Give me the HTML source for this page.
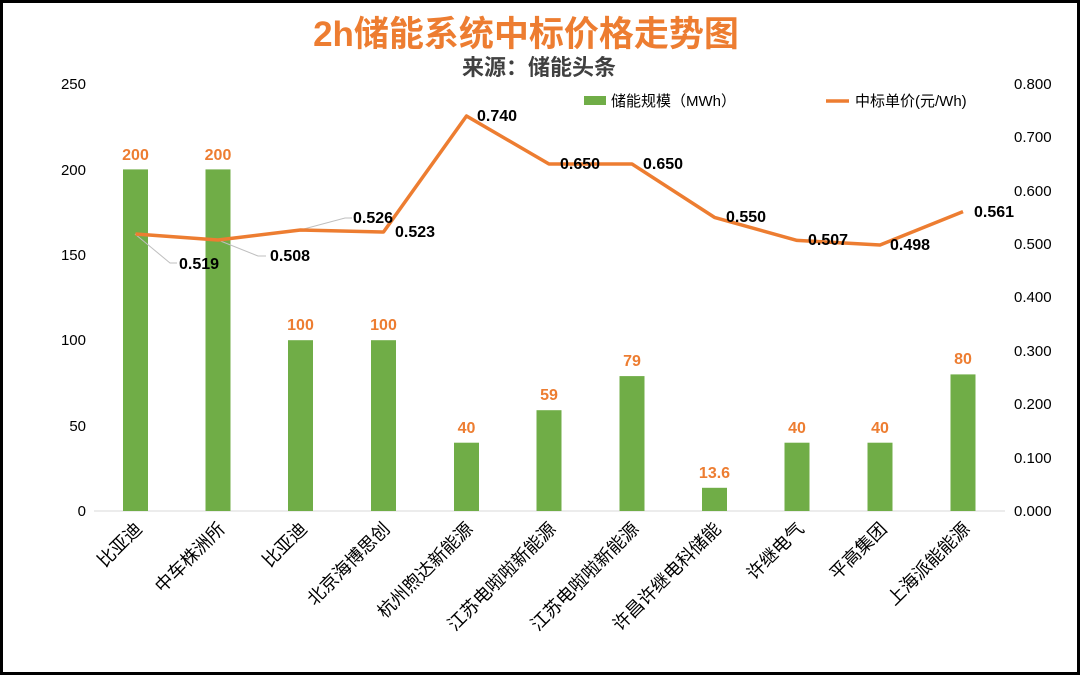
<!DOCTYPE html>
<html><head><meta charset="utf-8"><style>
html,body{margin:0;padding:0;background:#fff}
svg{display:block}
text{font-family:"Liberation Sans","Noto Sans CJK SC",sans-serif}
</style></head><body>
<svg width="1080" height="675" xmlns="http://www.w3.org/2000/svg">
<rect x="1.5" y="1.5" width="1077" height="672" fill="#fff" stroke="#000" stroke-width="3"/>
<text x="526" y="46" text-anchor="middle" font-size="35" font-weight="bold" fill="#ED7D31">2h储能系统中标价格走势图</text>
<text x="539" y="75" text-anchor="middle" font-size="22" font-weight="bold" fill="#404040">来源：储能头条</text>
<g font-size="15" fill="#000" text-anchor="end">
<text x="86" y="89">250</text><text x="86" y="175">200</text><text x="86" y="260">150</text>
<text x="86" y="345">100</text><text x="86" y="431">50</text><text x="86" y="516">0</text>
</g>
<g font-size="15" fill="#000" text-anchor="start">
<text x="1014" y="89">0.800</text><text x="1014" y="142">0.700</text><text x="1014" y="196">0.600</text>
<text x="1014" y="249">0.500</text><text x="1014" y="302">0.400</text><text x="1014" y="356">0.300</text>
<text x="1014" y="409">0.200</text><text x="1014" y="463">0.100</text><text x="1014" y="516">0.000</text>
</g>
<line x1="94" y1="511" x2="1005" y2="511" stroke="#d9d9d9" stroke-width="1"/>
<g fill="#70AD47">
<rect x="123" y="169.4" width="25" height="341.6"/>
<rect x="205.5" y="169.4" width="25" height="341.6"/>
<rect x="288" y="340.2" width="25" height="170.8"/>
<rect x="371" y="340.2" width="25" height="170.8"/>
<rect x="454" y="442.7" width="25" height="68.3"/>
<rect x="536.5" y="410.2" width="25" height="100.8"/>
<rect x="619.5" y="376.1" width="25" height="134.9"/>
<rect x="702" y="487.8" width="25" height="23.2"/>
<rect x="784.5" y="442.7" width="25" height="68.3"/>
<rect x="867.5" y="442.7" width="25" height="68.3"/>
<rect x="950.5" y="374.4" width="25" height="136.6"/>
</g>
<g font-size="16" font-weight="bold" fill="#ED7D31" text-anchor="middle">
<text x="135.5" y="160">200</text><text x="218" y="160">200</text><text x="300.5" y="330">100</text>
<text x="383.5" y="330">100</text><text x="466.5" y="433">40</text><text x="549" y="400">59</text>
<text x="632" y="366">79</text><text x="714.5" y="478">13.6</text><text x="797" y="433">40</text>
<text x="880" y="433">40</text><text x="963" y="364">80</text>
</g>
<g stroke="#BFBFBF" stroke-width="1" fill="none">
<polyline points="135,234 170,263 177,263"/>
<polyline points="218,240 258,256 266,256"/>
<polyline points="300,230 345,218 352,218"/>
</g>
<polyline fill="none" stroke="#ED7D31" stroke-width="3.5" stroke-linejoin="round" points="135.5,234 218,240 300.5,230 383.5,232 466.5,116 549,164 632,164 714.5,217.4 797,240.4 880,245 963,211.6"/>
<g font-size="16" font-weight="bold" fill="#000">
<text x="179" y="269">0.519</text><text x="270" y="261">0.508</text><text x="353" y="223">0.526</text>
<text x="395" y="237">0.523</text><text x="477" y="121">0.740</text><text x="560" y="169">0.650</text>
<text x="643" y="169">0.650</text><text x="726" y="222">0.550</text><text x="808" y="245">0.507</text>
<text x="890" y="250">0.498</text><text x="974" y="217">0.561</text>
</g>
<rect x="584" y="96" width="22" height="9" fill="#70AD47"/>
<text x="611" y="106" font-size="15" fill="#000">储能规模（MWh）</text>
<line x1="826" y1="101" x2="849" y2="101" stroke="#ED7D31" stroke-width="3.5"/>
<text x="855" y="106" font-size="15" fill="#000">中标单价(元/Wh)</text>
<g font-size="18" fill="#000" text-anchor="end">
<text transform="translate(143,530) rotate(-45)">比亚迪</text>
<text transform="translate(226,530) rotate(-45)">中车株洲所</text>
<text transform="translate(308,530) rotate(-45)">比亚迪</text>
<text transform="translate(391,530) rotate(-45)">北京海博思创</text>
<text transform="translate(474,530) rotate(-45)">杭州煦达新能源</text>
<text transform="translate(557,530) rotate(-45)">江苏电啦啦新能源</text>
<text transform="translate(640,530) rotate(-45)">江苏电啦啦新能源</text>
<text transform="translate(722,530) rotate(-45)">许昌许继电科储能</text>
<text transform="translate(805,530) rotate(-45)">许继电气</text>
<text transform="translate(888,530) rotate(-45)">平高集团</text>
<text transform="translate(971,530) rotate(-45)">上海派能能源</text>
</g>
</svg>
</body></html>
